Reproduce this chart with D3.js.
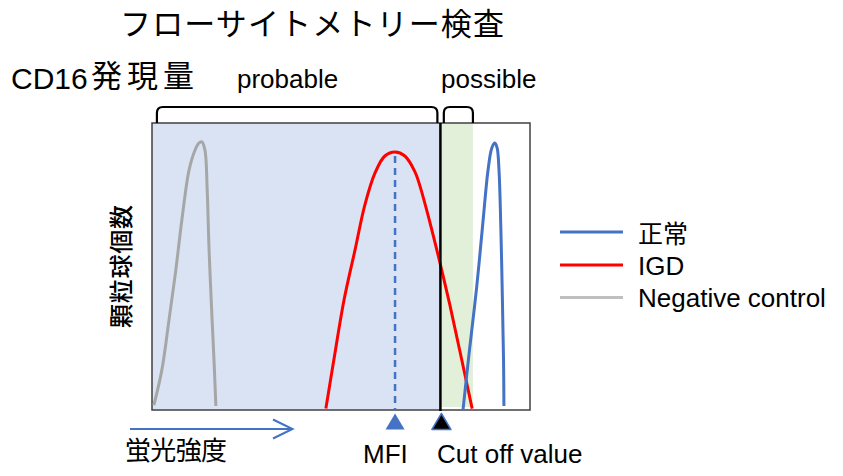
<!DOCTYPE html>
<html><head><meta charset="utf-8">
<script src="https://cdn.jsdelivr.net/npm/d3@7"></script>
<style>
html,body{margin:0;padding:0;background:#fff;}
svg{display:block;}
</style></head>
<body>
<svg id="chart" width="843" height="476"></svg>
<script>
// ---- data (fluorescence intensity 0-100, cell count 0-100) ----
const seriesNames = ["正常", "IGD", "Negative control"];
const seriesColors = ["#4472C4", "#FF0000", "#A6A6A6"];

const normalX = [82.3, 83.9, 85.9, 87.6, 88.9, 89.9, 90.7, 91.3, 91.8, 92.3, 92.7, 93.0, 93.1];
const normalY = [0.3, 19.9, 42.9, 66.2, 83.6, 91.3, 93.0, 91.3, 83.6, 62.7, 38.3, 17.4, 1.4];

const igdX = [46.0, 48.1, 50.8, 53.7, 56.3, 59.0, 61.6, 64.3, 66.9, 69.6, 70.9, 73.5, 76.2, 78.8, 81.5, 84.7];
const igdY = [0.5, 17.4, 38.3, 55.7, 71.4, 82.6, 88.5, 89.9, 88.5, 82.9, 78.0, 65.5, 51.2, 36.6, 20.2, 0.5];

const negX = [0.5, 2.6, 4.5, 6.3, 7.9, 9.8, 11.4, 12.4, 13.2, 14.0, 14.6, 15.1, 15.9, 16.4, 16.9];
const negY = [1.7, 13.9, 31.4, 48.8, 66.2, 83.6, 90.6, 93.0, 93.4, 90.6, 76.7, 55.7, 31.4, 17.4, 1.4];

const mfiValue = 64.3;
const cutoffValue = 76.3;
const possibleEnd = 84.9;
const regionLabels = ["probable", "possible"];
const probableBracket = [1.3, 75.5];
const possibleBracket = [77.2, 84.9];

const titleText = "フローサイトメトリー検査";
const subtitleText = "CD16発現量";
const yLabel = "顆粒球個数";
const xLabel = "蛍光強度";
const markerLabels = ["MFI", "Cut off value"];

// ---- layout ----
const svg = d3.select("#chart");
const x = d3.scaleLinear().domain([0, 100]).range([152, 530]);
const y = d3.scaleLinear().domain([0, 100]).range([410, 123]);
const latin = "'Liberation Sans', Arial, sans-serif";
const cjk = "'Noto Sans CJK JP', sans-serif";

// background regions
svg.append("rect").attr("x", x(0)).attr("y", y(100))
  .attr("width", x(cutoffValue) - x(0)).attr("height", y(0) - y(100))
  .attr("fill", "#DAE3F3");
svg.append("rect").attr("x", x(cutoffValue)).attr("y", y(100))
  .attr("width", x(possibleEnd) - x(cutoffValue)).attr("height", y(0) - y(100) - 3)
  .attr("fill", "#E2F0D9");

// frame
svg.append("rect").attr("x", x(0)).attr("y", y(100))
  .attr("width", x(100) - x(0)).attr("height", y(0) - y(100))
  .attr("fill", "none").attr("stroke", "#404040").attr("stroke-width", 1.5);

// curves
const line = d3.line().x(d => x(d[0])).y(d => y(d[1])).curve(d3.curveCatmullRom.alpha(0.5));
const series = [
  d3.zip(normalX, normalY),
  d3.zip(igdX, igdY),
  d3.zip(negX, negY)
];
[2, 1, 0].forEach(i => {
  svg.append("path").attr("d", line(series[i]))
    .attr("fill", "none").attr("stroke", seriesColors[i])
    .attr("stroke-width", 3).attr("stroke-linecap", "butt");
});

// MFI dashed line
const igdPeak = d3.max(igdY);
svg.append("line").attr("x1", x(mfiValue)).attr("x2", x(mfiValue))
  .attr("y1", y(igdPeak) + 4).attr("y2", y(0))
  .attr("stroke", "#4472C4").attr("stroke-width", 2.5).attr("stroke-dasharray", "7,5");

// cut-off line
svg.append("line").attr("x1", x(cutoffValue)).attr("x2", x(cutoffValue))
  .attr("y1", y(100)).attr("y2", y(0) + 1)
  .attr("stroke", "#000").attr("stroke-width", 2.5);

// brackets
function bracket(a, b) {
  const x1 = x(a), x2 = x(b), top = 107, bot = y(100), r = 6;
  return `M${x1},${bot} L${x1},${top + r} Q${x1},${top} ${x1 + r},${top} L${x2 - r},${top} Q${x2},${top} ${x2},${top + r} L${x2},${bot}`;
}
[probableBracket, possibleBracket].forEach(bk => {
  svg.append("path").attr("d", bracket(bk[0], bk[1]))
    .attr("fill", "none").attr("stroke", "#000").attr("stroke-width", 2.2);
});

// region labels
svg.append("text").attr("x", 237).attr("y", 88).text(regionLabels[0])
  .attr("font-family", latin).attr("font-size", 26).attr("fill", "#000");
svg.append("text").attr("x", 441).attr("y", 88).text(regionLabels[1])
  .attr("font-family", latin).attr("font-size", 26).attr("fill", "#000");

// title
svg.append("text").attr("x", 312).attr("y", 35).attr("text-anchor", "middle")
  .attr("font-family", cjk).attr("font-size", 31).attr("fill", "#000")
  .attr("textLength", 384).attr("lengthAdjust", "spacing")
  .text(titleText);

// subtitle: latin part and CJK part
svg.append("text").attr("x", 11).attr("y", 89)
  .attr("font-family", latin).attr("font-size", 30).attr("fill", "#000")
  .text(subtitleText.slice(0, 4));
svg.append("text").attr("x", 91).attr("y", 87)
  .attr("font-family", cjk).attr("font-size", 31).attr("fill", "#000")
  .attr("textLength", 103).attr("lengthAdjust", "spacing")
  .text(subtitleText.slice(4));

// y label
svg.append("text").attr("transform", "translate(119.5,266.5) rotate(-90)")
  .attr("text-anchor", "middle").attr("dominant-baseline", "central")
  .attr("font-family", cjk).attr("font-size", 24).attr("font-weight", 500)
  .attr("textLength", 123).attr("lengthAdjust", "spacing")
  .attr("fill", "#000").text(yLabel);

// x arrow
svg.append("line").attr("x1", 130).attr("x2", 292).attr("y1", 429).attr("y2", 429)
  .attr("stroke", "#4472C4").attr("stroke-width", 2);
svg.append("path").attr("d", "M273,419.5 L292.5,429 L273,438.5")
  .attr("fill", "none").attr("stroke", "#4472C4").attr("stroke-width", 2);
svg.append("text").attr("x", 125).attr("y", 460)
  .attr("font-family", cjk).attr("font-size", 26).attr("fill", "#000")
  .attr("textLength", 102).attr("lengthAdjust", "spacing")
  .text(xLabel);

// markers
function tri(cx) { return `M${cx},413.5 L${cx + 9.5},429.5 L${cx - 9.5},429.5 Z`; }
svg.append("path").attr("d", tri(x(mfiValue))).attr("fill", "#4472C4");
svg.append("path").attr("d", tri(x(cutoffValue) + 1)).attr("fill", "#000")
  .attr("stroke", "#4472C4").attr("stroke-width", 1.5).attr("stroke-linejoin", "round");
svg.append("text").attr("x", 363).attr("y", 463).text(markerLabels[0])
  .attr("font-family", latin).attr("font-size", 26).attr("fill", "#000");
svg.append("text").attr("x", 437).attr("y", 463).text(markerLabels[1])
  .attr("font-family", latin).attr("font-size", 26).attr("fill", "#000");

// legend
const legendY = [232, 265, 297.5];
seriesNames.forEach((name, i) => {
  svg.append("line").attr("x1", 560).attr("x2", 623)
    .attr("y1", legendY[i]).attr("y2", legendY[i])
    .attr("stroke", i === 2 ? "#BFBFBF" : seriesColors[i]).attr("stroke-width", 3);
  const t = svg.append("text").attr("x", 638).attr("fill", "#000").text(name);
  if (i === 0) {
    t.attr("y", legendY[i]).attr("dominant-baseline", "central")
     .attr("font-family", cjk).attr("font-size", 25);
  } else {
    t.attr("y", legendY[i] + 9.5).attr("font-family", latin).attr("font-size", 26);
  }
});
</script>
</body></html>
